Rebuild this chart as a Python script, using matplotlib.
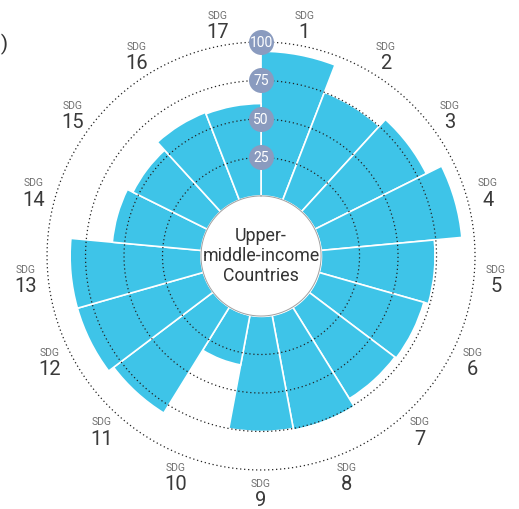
import numpy as np
import matplotlib.pyplot as plt

# SDG scores for upper-middle-income countries
goals = [str(i) for i in range(1, 18)]
scores = [94, 75, 81, 92, 74, 71, 70, 76, 75, 33, 81, 85, 85, 58, 54, 61, 60]
rings = [25, 50, 75, 100]

bar_color = "#3ec4e8"
badge_color = "#8a9bbf"
font = "Roboto"

fig = plt.figure(figsize=(5.19, 5.10), dpi=100)
ax = fig.add_axes([0.0906, 0.0765, 0.8247, 0.8392], projection="polar")
ax.set_theta_zero_location("N")
ax.set_theta_direction(-1)
ax.set_ylim(-39, 100)
ax.set_axis_off()

n = len(scores)
width = 2 * np.pi / n
theta = np.arange(n) * width

ax.bar(theta, scores, width=width, bottom=0, align="edge",
       color=bar_color, edgecolor="white", linewidth=1.2, zorder=2)

# dotted reference rings
circ = np.linspace(0, 2 * np.pi, 400)
for r in rings:
    ax.plot(circ, [r] * len(circ), ls=(0, (1, 2.2)), color="#222222", lw=0.9,
            zorder=3, clip_on=False)

# hole in the middle
ax.fill_between(circ, -39, 0, color="white", zorder=4)
ax.plot(circ, [0] * len(circ), color="#a0a0a0", lw=0.7, zorder=4)

# ring value badges
for r in rings:
    ax.plot(0, r, "o", ms=18, color=badge_color, mec="none", zorder=5,
            clip_on=False)
    ax.text(0, r, str(r), ha="center", va="center", color="white",
            fontsize=10, family=font, zorder=6)

# goal labels round the outside
for i, g in enumerate(goals):
    th = (i + 0.5) * width
    ax.annotate("SDG", xy=(th, 114.3), xytext=(0, 6.5),
                textcoords="offset points", ha="center", va="center",
                fontsize=7.5, color="#707070", family=font,
                annotation_clip=False)
    ax.annotate(g, xy=(th, 114.3), xytext=(0, -5.5),
                textcoords="offset points", ha="center", va="center",
                fontsize=14.5, color="#3a3a3a", family=font,
                annotation_clip=False)

fig.text(261 / 519, 1 - 256 / 510, "Upper-\nmiddle-income\nCountries",
         ha="center", va="center", fontsize=12.8, linespacing=1.12,
         color="#333333", family=font)

fig.text(9 / 519, 1 - 44 / 510, "(b)", ha="right", va="center",
         fontsize=15, color="#333333", family=font)

fig.savefig("out.png", dpi=100)
